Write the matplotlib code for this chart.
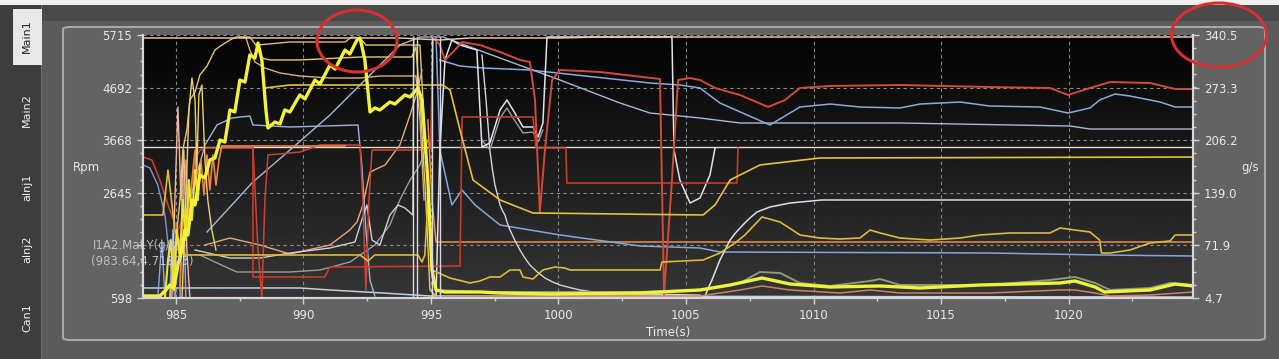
import matplotlib
matplotlib.use('Agg')
import matplotlib.pyplot as plt
from matplotlib.patches import Ellipse, Rectangle, FancyBboxPatch
from matplotlib.ticker import MultipleLocator, AutoMinorLocator
import numpy as np

plt.rcParams['font.family'] = ['DejaVu Sans']

# axes / labels
rpm_ticks = [598, 1621, 2645, 3668, 4692, 5715]
rpm_labels = ['598', '', '2645', '3668', '4692', '5715']
gs_ticks = [4.7, 71.9, 139.0, 206.2, 273.3, 340.5]
time_range = [983.71, 1024.88]
tabs = ['Main1', 'Main2', 'aInj1', 'aInj2', 'Can1']
cursor_name = 'I1A2.Maf.Y(g/s)'
cursor_value = '(983.64,4.71893)'

# channels, time (s) / value on the Rpm scale
peach_top_t = [983.71, 993.78, 995.35, 996.53, 1000.06, 1001.63, 1024.88]
peach_top_v = [5657, 5657, 5618, 5657, 5657, 5676, 5676]

thick_t = [983.71, 984.37, 984.61, 984.76, 984.92, 985.08, 985.24, 985.35, 985.47, 985.63,
           985.75, 985.94, 986.14, 986.33, 986.53, 986.73, 986.92, 987.12, 987.31, 987.51,
           987.71, 987.90, 988.10, 988.22, 988.37, 988.53, 988.61, 988.88, 989.08, 989.27,
           989.47, 989.86, 990.06, 990.45, 990.65, 991.04, 991.24, 991.63, 991.82, 992.10,
           992.22, 992.41, 992.61, 992.80, 993.00, 993.39, 993.59, 993.98, 994.18, 994.49,
           994.65, 994.88, 995.04, 995.20, 995.55, 996.92, 997.71, 999.67, 1003.20, 1005.55,
           1006.73, 1007.98, 1009.08, 1010.65, 1012.61, 1014.18, 1016.53, 1019.67, 1020.25, 1021.04,
           1021.41, 1023.20, 1024.18, 1024.88]
thick_v = [637, 637, 754, 851, 793, 1240, 1532, 1921, 1824, 2505,
           2408, 2991, 2933, 3283, 3322, 3672, 3633, 4256, 4217, 4839,
           4800, 5326, 5267, 5559, 5229, 4256, 3906, 4022, 3983, 4256,
           4217, 4548, 4470, 4839, 4762, 5131, 5053, 5423, 5345, 5618,
           5657, 5229, 4217, 4295, 4256, 4411, 4372, 4548, 4509, 4684,
           4450, 2894, 1143, 754, 715, 715, 695, 676, 695, 754,
           851, 987, 870, 812, 832, 793, 851, 890, 929, 812,
           715, 754, 870, 832]

red_main_t = [995.00, 995.08, 995.35, 995.55, 995.94, 996.22, 996.92, 997.71, 998.49, 998.88,
              999.08, 999.27, 999.47, 999.75, 1000.06, 1001.63, 1003.98, 1004.14, 1004.45, 1004.69,
              1005.16, 1005.55, 1006.14, 1007.12, 1008.22, 1008.88, 1009.47, 1010.65, 1013.39, 1016.92,
              1019.27, 1019.98, 1020.84, 1021.63, 1023.20, 1024.18, 1024.88]
red_main_v = [3516, 5676, 5520, 5229, 5423, 5579, 5520, 5384, 5229, 5190,
              4450, 2271, 3477, 4839, 5034, 4995, 4859, 656, 2894, 4839,
              4878, 4839, 4684, 4548, 4314, 4450, 4684, 4723, 4742, 4703,
              4684, 4548, 4684, 4800, 4781, 4664, 4664]

red_a_t = [983.71, 984.06, 984.37, 984.76, 985.08, 985.35, 985.55, 985.75, 985.94, 986.14,
           988.02, 988.22, 988.37, 988.49, 988.61, 989.86, 990.65, 992.22, 992.33, 992.45,
           992.57, 992.69, 994.57, 995.00]
red_a_v = [3341, 3283, 2894, 2310, 1921, 2213, 2505, 3283, 3477, 3516,
           3516, 1532, 598, 2505, 3380, 3439, 3575, 3575, 2505, 754,
           2505, 3477, 3477, 3516]

red_b_t = [988.02, 988.02, 990.84, 991.04, 996.14, 996.22, 999.00, 999.12, 1000.29, 1000.33,
           1007.00, 1007.04]
red_b_v = [3516, 1007, 1007, 1201, 1220, 4120, 4120, 3516, 3516, 2835, 2835, 3516]

orange_zig_t = [985.16, 985.27, 985.39, 985.51, 985.63, 985.75, 985.86, 985.98, 986.10, 986.22,
                986.33, 986.45, 986.57, 986.69, 986.80, 990.65, 991.63]
orange_zig_v = [754, 2505, 3283, 1921, 2894, 3477, 2505, 3283, 2602, 3380,
                2699, 3380, 2797, 3283, 3555, 3555, 3555]

orange_h_t = [994.88, 995.04, 995.20, 1024.88]
orange_h_v = [4061, 2505, 1688, 1688]

cream_h_t = [983.71, 1024.88]
cream_h_v = [3536, 3536]

blue_diag_t = [986.22, 988.02, 989.47, 991.04, 992.61, 993.78, 994.57, 995.47, 997.71, 1000.06,
               1002.41, 1003.59, 1005.55, 1007.12, 1013.39, 1020.06, 1020.84, 1024.88]
blue_diag_v = [1882, 2855, 3477, 4158, 4937, 5520, 5676, 5676, 5267, 4839,
               4392, 4197, 4100, 4003, 4003, 3944, 3886, 3886]

blue_mid_t = [995.35, 996.14, 997.04, 998.88, 1003.59, 1004.76, 1005.55, 1006.33, 1008.29, 1009.47,
              1010.65, 1011.82, 1013.39, 1014.18, 1015.75, 1016.92, 1018.88, 1019.98, 1020.84, 1021.22,
              1021.82, 1022.41, 1023.59, 1024.18, 1024.88]
blue_mid_v = [5229, 5112, 5073, 5034, 4781, 4742, 4684, 4392, 3964, 4314,
              4372, 4314, 4295, 4372, 4411, 4333, 4314, 4197, 4295, 4450,
              4567, 4528, 4411, 4314, 4314]

blue_low_t = [995.20, 995.35, 995.82, 996.22, 996.73, 997.71, 1000.06, 1003.20, 1005.55, 1006.33,
              1016.92, 1021.22, 1024.88]
blue_low_v = [5676, 3477, 2408, 2699, 2408, 2018, 1824, 1610, 1571, 1493, 1473, 1435, 1415]

gold_t = [988.49, 989.47, 995.47, 995.75, 996.14, 996.65, 997.71, 999.00, 1005.67, 1006.14,
          1006.73, 1007.90, 1010.25, 1024.88]
gold_v = [4684, 4742, 4742, 4645, 3867, 2894, 2505, 2252, 2213, 2408,
          2894, 3186, 3322, 3341]

gold_low_t = [983.71, 984.49, 984.69, 984.96, 985.35, 985.94, 992.22, 992.53, 992.80, 994.49,
              994.65, 994.76, 994.88, 995.04, 995.75, 996.53, 996.92, 997.31, 997.71, 998.10,
              998.49, 998.61, 999.00, 999.39, 999.86, 1000.25, 1000.45, 1003.98, 1004.06, 1005.67,
              1006.33, 1006.92, 1007.31, 1007.98, 1008.69, 1009.47, 1010.25, 1011.04, 1011.82, 1012.22,
              1012.61, 1013.39, 1014.57, 1015.75, 1016.53, 1017.71, 1019.27, 1019.67, 1020.25, 1020.84,
              1021.22, 1021.29, 1021.63, 1022.41, 1023.20, 1023.98, 1024.18, 1024.88]
gold_low_v = [2213, 2213, 3088, 1921, 1435, 1435, 1435, 1318, 1435, 1435,
              1298, 1435, 2505, 1143, 987, 890, 929, 1007, 1007, 1143,
              1143, 1007, 968, 1143, 1201, 1182, 1143, 1143, 1298, 1337,
              1473, 1668, 1824, 2174, 2077, 1824, 1765, 1746, 1765, 1921,
              1863, 1765, 1726, 1765, 1824, 1863, 1863, 1960, 1921, 1882,
              1726, 1473, 1473, 1532, 1668, 1707, 1824, 1824]

stair_t = [984.76, 984.96, 985.16, 985.27, 985.43, 985.55, 985.75, 985.94, 986.22, 986.53,
           986.80, 987.12, 987.35, 987.90, 988.14, 988.37, 988.69, 989.86, 992.22, 994.25,
           994.41, 994.57, 994.80, 994.96, 995.20]
stair_v = [598, 1532, 2505, 3477, 3867, 4450, 4606, 4937, 5112, 5423,
           5520, 5618, 5676, 5676, 5520, 5267, 5229, 5229, 5287, 5287,
           5481, 4450, 2505, 754, 637]

tan_t = [987.51, 987.75, 987.90, 988.10, 988.49, 989.08, 989.86, 991.04, 992.22, 993.00,
         994.41, 994.57, 994.73]
tan_v = [5676, 5657, 5423, 5190, 5073, 4976, 4917, 4878, 4878, 4917, 4917, 4061, 2505]

pale_t = [988.22, 989.47, 991.63, 991.90, 992.22, 992.45, 994.57, 994.73]
pale_v = [5520, 5579, 5579, 5676, 5657, 5520, 5520, 4061]

wave_t = [995.20, 995.35, 995.55, 995.82, 996.14, 996.53, 996.80, 997.00, 997.31, 997.71,
          997.98, 998.22, 998.61, 999.00, 999.20, 999.39, 999.55, 999.94, 1004.45, 1004.53,
          1004.76, 1005.16, 1005.55, 1005.94, 1006.14]
wave_v = [637, 3477, 5229, 5618, 5520, 5462, 5423, 3536, 3614, 4256,
          4450, 4256, 3925, 3925, 3730, 4003, 5676, 5676, 5676, 3477,
          2894, 2446, 2544, 2991, 3516]

wave2_t = [997.00, 997.31, 997.71, 997.98, 998.22, 998.61, 999.00, 999.20, 999.39]
wave2_v = [3672, 3477, 4100, 4295, 4100, 3808, 3827, 3633, 3867]

steps_t = [997.00, 997.08, 997.16, 997.24, 997.31, 997.41, 997.51, 997.61, 997.71, 997.80,
           997.90, 998.00, 998.10, 998.29, 998.49, 998.68, 998.88, 999.18, 999.47, 999.77,
           1000.06, 1000.45, 1000.84, 1001.63, 1003.20, 1005.55]
steps_v = [5326, 4900, 4450, 3950, 3477, 3100, 2797, 2600, 2408, 2300,
           2213, 2050, 1921, 1720, 1532, 1380, 1240, 1100, 987, 910,
           851, 800, 754, 695, 676, 656]

white_r_t = [1001.63, 1005.75, 1005.88, 1006.02, 1006.18, 1006.33, 1006.53, 1006.73, 1006.92, 1007.12,
             1007.31, 1007.51, 1007.78, 1008.29, 1009.08, 1010.33, 1024.88]
white_r_v = [637, 637, 800, 948, 1150, 1337, 1530, 1726, 1850, 1960,
             2060, 2155, 2271, 2368, 2446, 2505, 2505]

silver_t = [985.75, 987.12, 988.29, 989.47, 991.04, 992.02, 992.29, 992.49, 992.69, 993.00,
            993.39, 993.71, 993.98, 994.29, 994.33]
silver_v = [1532, 1376, 1376, 1473, 1571, 1688, 2116, 2408, 1726, 1629,
            2213, 2408, 2349, 2213, 5676]

gray_t = [985.94, 986.53, 987.39, 989.47, 990.65, 991.82, 992.80, 993.39, 993.78, 994.18,
          994.57, 994.88]
gray_v = [1435, 1298, 1104, 1104, 1143, 1298, 1629, 2018, 2505, 2894, 3186, 3672]

peach_t = [986.14, 987.12, 988.29, 989.47, 991.04, 991.82, 992.10, 992.33, 992.61, 993.20,
           993.78, 994.18, 994.45, 994.65]
peach_v = [1629, 1765, 1629, 1454, 1629, 1921, 2077, 2408, 3049, 3186,
           3575, 4158, 4587, 5034]

blue_box_t = [985.55, 986.14, 986.61, 987.20, 987.90, 988.02, 989.47, 992.14, 992.29, 992.45,
              992.61, 992.80]
blue_box_v = [2505, 3575, 3964, 4100, 4139, 3964, 3925, 3964, 3186, 1921, 948, 637]

blue_bot_t = [983.71, 989.86, 991.04, 993.12, 994.96, 1024.88]
blue_bot_v = [793, 793, 754, 695, 637, 617]

olive_t = [995.20, 996.92, 1003.20, 1005.55, 1007.12, 1007.90, 1008.69, 1009.47, 1010.65, 1012.22,
           1012.61, 1013.39, 1016.92, 1019.27, 1020.25, 1021.04, 1021.63, 1023.20, 1023.98, 1024.88]
olive_v = [754, 715, 715, 754, 890, 1104, 1084, 890, 832, 929,
           968, 851, 851, 948, 1007, 890, 754, 793, 890, 851]

brown_t = [995.20, 1001.63, 1005.55, 1007.12, 1007.98, 1009.08, 1011.04, 1012.22, 1013.39, 1016.92,
           1019.67, 1020.25, 1021.04, 1021.63, 1023.20, 1024.88]
brown_v = [617, 637, 637, 754, 832, 754, 695, 754, 695, 695,
           754, 754, 695, 637, 656, 715]

yspike_t = [985.24, 985.39, 985.51, 985.63, 985.75, 985.82, 985.90, 986.02, 986.14, 986.25,
            986.41, 986.57]
yspike_v = [598, 2505, 4256, 4878, 4450, 3088, 4548, 4742, 3283, 2505, 1921, 1532]

ychaos_t = [984.57, 984.69, 984.80, 984.92, 985.04, 985.16, 985.27, 985.39, 985.51, 985.63,
            985.75, 985.86, 985.94]
ychaos_v = [598, 1337, 1726, 754, 1921, 1337, 2505, 1726, 2894, 2116, 3088, 2505, 3186]

pspike_t = [984.84, 984.96, 985.08, 985.20, 985.31, 985.43, 985.55]
pspike_v = [598, 2505, 4314, 2505, 3477, 1532, 598]

blue_left_t = [983.71, 983.98, 984.29, 984.57, 984.76, 984.96]
blue_left_v = [3186, 3127, 2797, 2213, 1337, 598]

bspike_t = [984.29, 984.45, 984.57, 984.76, 984.88, 985.00, 985.16, 985.27, 985.39]
bspike_v = [598, 1726, 598, 598, 1921, 598, 598, 3283, 598]

bundle_t = [994.29, 994.45, 995.04, 995.35]

W, H = 1279, 359


def box(x, y, w, h):
    # pixel box -> figure fraction
    return (x / W, 1 - (y + h) / H), w / W, h / H


fig = plt.figure(figsize=(12.79, 3.59), dpi=100)
fig.patch.set_facecolor('#5b5b5b')

for (x, y, w, h), c in [((0, 0, 1279, 5), '#f0f0f0'),
                        ((42, 5, 1237, 16), '#4a4a4a'),
                        ((0, 5, 42, 354), '#3d3d3d'),
                        ((41, 5, 1.5, 354), '#6e6e6e'),
                        ((13, 9, 29, 56), '#e8e8e8')]:
    xy, ww, hh = box(x, y, w, h)
    fig.patches.append(Rectangle(xy, ww, hh, transform=fig.transFigure,
                                 facecolor=c, edgecolor='none', zorder=-2))

xy, ww, hh = box(63, 27, 1202, 313)
fig.patches.append(FancyBboxPatch(xy, ww, hh, boxstyle='round,pad=0,rounding_size=0.006',
                                  transform=fig.transFigure, facecolor='#636363',
                                  edgecolor='#a8a8a8', lw=1.5, zorder=-1))

tab_y = [36, 110, 187, 249, 318]
for name, ty in zip(tabs, tab_y):
    fig.text(27 / W, 1 - ty / H, name, rotation=90, ha='center', va='center',
             fontsize=8, color='#222222' if name == 'Main1' else '#f0f0f0')

ax = fig.add_axes([143 / W, 61 / H, 1050 / W, 263 / H])
# background: black at the top fading to dark grey at the bottom
grad = np.linspace(0.01, 0.21, 200).reshape(-1, 1)
ax.imshow(grad, extent=[0, 1, 0, 1], transform=ax.transAxes, aspect='auto',
          cmap='gray', vmin=0, vmax=1, zorder=0)

lines = [
    (cream_h_t, cream_h_v, '#e4dcc8', 1.0),
    (orange_h_t, orange_h_v, '#e8904c', 1.1),
    (blue_bot_t, blue_bot_v, '#c4d0e6', 1.1),
    (blue_diag_t, blue_diag_v, '#a8b8d8', 1.0),
    (blue_mid_t, blue_mid_v, '#8aaae0', 1.1),
    (blue_low_t, blue_low_v, '#86a6dc', 1.1),
    (blue_box_t, blue_box_v, '#9cb4e0', 1.0),
    (blue_left_t, blue_left_v, '#7f98c8', 1.0),
    (bspike_t, bspike_v, '#8aa8e0', 1.0),
    (gray_t, gray_v, '#9a9aa4', 1.0),
    (peach_t, peach_v, '#e8a878', 1.0),
    (silver_t, silver_v, '#cfcfd6', 1.0),
    (steps_t, steps_v, '#d4d4dc', 1.0),
    (white_r_t, white_r_v, '#dce0ea', 1.1),
    (wave2_t, wave2_v, '#9c9ca4', 1.0),
    (wave_t, wave_v, '#e2e2ea', 1.1),
    (red_b_t, red_b_v, '#c83a2a', 1.2),
    (red_a_t, red_a_v, '#cc4430', 1.1),
    (red_main_t, red_main_v, '#d24a38', 1.4),
    (orange_zig_t, orange_zig_v, '#ea8446', 1.2),
    (pspike_t, pspike_v, '#f0b8a0', 1.0),
    (tan_t, tan_v, '#d8b078', 1.0),
    (pale_t, pale_v, '#e2c070', 1.0),
    (stair_t, stair_v, '#e8c868', 1.0),
    (gold_t, gold_v, '#e6c040', 1.2),
    (gold_low_t, gold_low_v, '#e0b83a', 1.2),
    (yspike_t, yspike_v, '#ecd070', 1.0),
    (ychaos_t, ychaos_v, '#f0e030', 1.5),
    (peach_top_t, peach_top_v, '#f0c4a0', 1.1),
    (olive_t, olive_v, '#8c9c78', 1.4),
    (brown_t, brown_v, '#c88462', 1.1),
    (thick_t, thick_v, '#f2f23a', 2.4),
]
for t, v, c, lw in lines:
    ax.plot(t, v, color=c, lw=lw, zorder=2)
ax.vlines(bundle_t, rpm_ticks[0], peach_top_v[-1], colors='#d8d8e0', lw=1.0, zorder=2)

ax.set_xlim(time_range)
ax.set_ylim(rpm_ticks[0], rpm_ticks[-1])
ax.set_yticks(rpm_ticks)
ax.set_yticklabels(rpm_labels)
ax.xaxis.set_major_locator(MultipleLocator(5))
ax.xaxis.set_minor_locator(MultipleLocator(2.5))
ax.yaxis.set_minor_locator(AutoMinorLocator(4))
ax.set_axisbelow(True)
ax.grid(True, which='major', color='#8a8a8a', linestyle=(0, (3, 3)), linewidth=0.8)
ax.set_xlabel('Time(s)', color='#ececec', fontsize=8.5, labelpad=3)

for s in ['left', 'bottom', 'right']:
    ax.spines[s].set_color('#d8d8d8')
    ax.spines[s].set_linewidth(1.5)
ax.spines['top'].set_visible(False)
ax.tick_params(which='both', direction='out', colors='#d0d0d0', labelcolor='#e8e8e8',
               labelsize=8.5, width=1)
ax.tick_params(which='major', length=4, pad=4)
ax.tick_params(which='minor', length=2.5)

ax2 = ax.twinx()
ax2.set_ylim(gs_ticks[0], gs_ticks[-1])
ax2.set_yticks(gs_ticks)
ax2.set_yticklabels([f'{g:.1f}' for g in gs_ticks])
ax2.yaxis.set_minor_locator(AutoMinorLocator(4))
for s in ['left', 'bottom', 'right']:
    ax2.spines[s].set_color('#d8d8d8')
    ax2.spines[s].set_linewidth(1.5)
ax2.spines['top'].set_visible(False)
ax2.tick_params(which='both', direction='out', colors='#d0d0d0', labelcolor='#e8e8e8',
                labelsize=8.5, width=1)
ax2.tick_params(which='major', length=4, pad=4)
ax2.tick_params(which='minor', length=2.5)

fig.text(86 / W, 1 - 167 / H, 'Rpm', ha='center', va='center', color='#e8e8e8', fontsize=8.5)
fig.text(1250 / W, 1 - 167 / H, 'g/s', ha='center', va='center', color='#e8e8e8', fontsize=8.5)
fig.text(93 / W, 1 - 245 / H, cursor_name, ha='left', va='center', color='#d0d0d0',
         fontsize=8.5, alpha=0.85, zorder=4)
fig.text(91 / W, 1 - 261 / H, cursor_value, ha='left', va='center', color='#d0d0d0',
         fontsize=8.5, alpha=0.85, zorder=4)

for cx, cy, ew, eh in [(357, 41, 80, 62), (1219, 35, 95, 64)]:
    fig.patches.append(Ellipse((cx / W, 1 - cy / H), ew / W, eh / H, transform=fig.transFigure,
                               fill=False, edgecolor='#d83030', lw=2.2, zorder=5))

fig.savefig('out.png', dpi=100, facecolor=fig.get_facecolor())
